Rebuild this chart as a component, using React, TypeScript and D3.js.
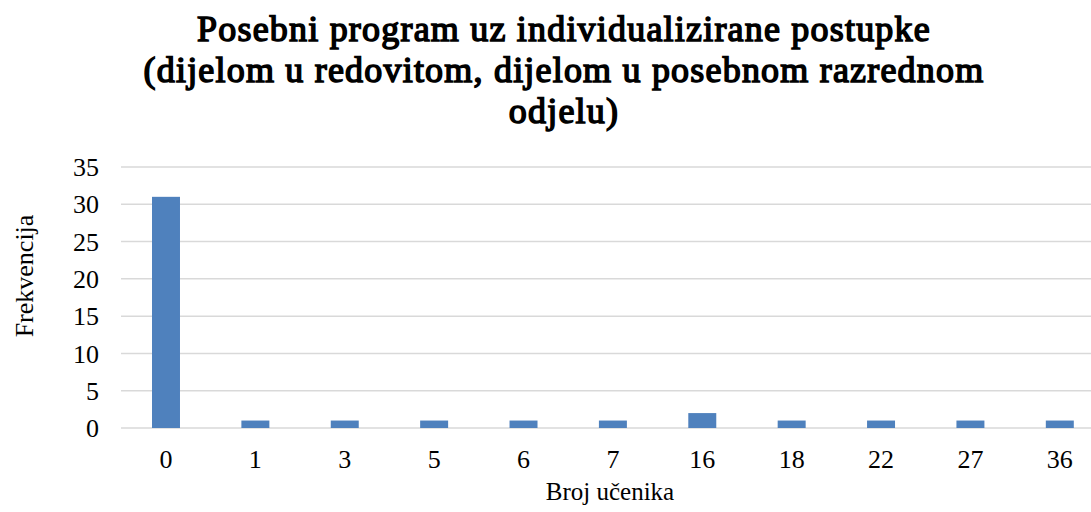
import React, { useEffect, useRef } from "react";
import * as d3 from "d3";

const categories = ["0", "1", "3", "5", "6", "7", "16", "18", "22", "27", "36"];
const values = [31, 1, 1, 1, 1, 1, 2, 1, 1, 1, 1];
const yTicks = [0, 5, 10, 15, 20, 25, 30, 35];
const titleLines = [
  "Posebni program uz individualizirane postupke",
  "(dijelom u redovitom, dijelom u posebnom razrednom",
  "odjelu)",
];

const App = () => {
  const svgRef = useRef<SVGSVGElement>(null);

  useEffect(() => {
    const width = 1091;
    const height = 512;
    const family = "Liberation Serif, Times New Roman, Times, serif";

    const svg = d3.select(svgRef.current);
    svg.selectAll("*").remove();
    svg.attr("width", width).attr("height", height);

    // plot area (chart was cropped on the right, so the range runs past the edge)
    const x = d3.scaleBand().domain(categories).range([121.3, 1104.5]);
    const y = d3.scaleLinear().domain([0, 35]).range([428, 167]);

    // gridlines
    svg
      .append("g")
      .selectAll("line")
      .data(yTicks)
      .join("line")
      .attr("x1", 121)
      .attr("x2", width)
      .attr("y1", (d) => y(d))
      .attr("y2", (d) => y(d))
      .attr("stroke", "#d9d9d9")
      .attr("stroke-width", 1.5);

    // y tick labels
    svg
      .append("g")
      .selectAll("text")
      .data(yTicks)
      .join("text")
      .attr("x", 99)
      .attr("y", (d) => y(d))
      .attr("dy", "0.35em")
      .attr("text-anchor", "end")
      .attr("font-family", family)
      .attr("font-size", 26)
      .attr("fill", "#000")
      .text((d) => d);

    // bars
    const barW = x.bandwidth() * 0.313;
    svg
      .append("g")
      .selectAll("rect")
      .data(values)
      .join("rect")
      .attr("x", (d, i) => x(categories[i])! + x.bandwidth() / 2 - barW / 2)
      .attr("y", (d) => y(d))
      .attr("width", barW)
      .attr("height", (d) => y(0) - y(d))
      .attr("fill", "#4f81bd");

    // x tick labels
    svg
      .append("g")
      .selectAll("text")
      .data(categories)
      .join("text")
      .attr("x", (d) => x(d)! + x.bandwidth() / 2)
      .attr("y", 468)
      .attr("text-anchor", "middle")
      .attr("font-family", family)
      .attr("font-size", 26)
      .attr("fill", "#000")
      .text((d) => d);

    // axis titles
    svg
      .append("text")
      .attr("x", 610)
      .attr("y", 500)
      .attr("text-anchor", "middle")
      .attr("font-family", family)
      .attr("font-size", 25)
      .text("Broj učenika");

    svg
      .append("text")
      .attr("transform", "translate(33,276) rotate(-90)")
      .attr("text-anchor", "middle")
      .attr("font-family", family)
      .attr("font-size", 26)
      .text("Frekvencija");

    // title (no bold serif face installed, so thicken the regular one)
    svg
      .append("g")
      .selectAll("text")
      .data(titleLines)
      .join("text")
      .attr("x", 564)
      .attr("y", (d, i) => 41 + i * 41)
      .attr("text-anchor", "middle")
      .attr("font-family", family)
      .attr("font-size", 36)
      .attr("letter-spacing", 1.2)
      .attr("fill", "#000")
      .attr("stroke", "#000")
      .attr("stroke-width", 1.5)
      .text((d) => d);
  }, []);

  return (
    <svg
      ref={svgRef}
      style={{ position: "absolute", left: 0, top: 0, background: "#fff" }}
    />
  );
};

export default App;
